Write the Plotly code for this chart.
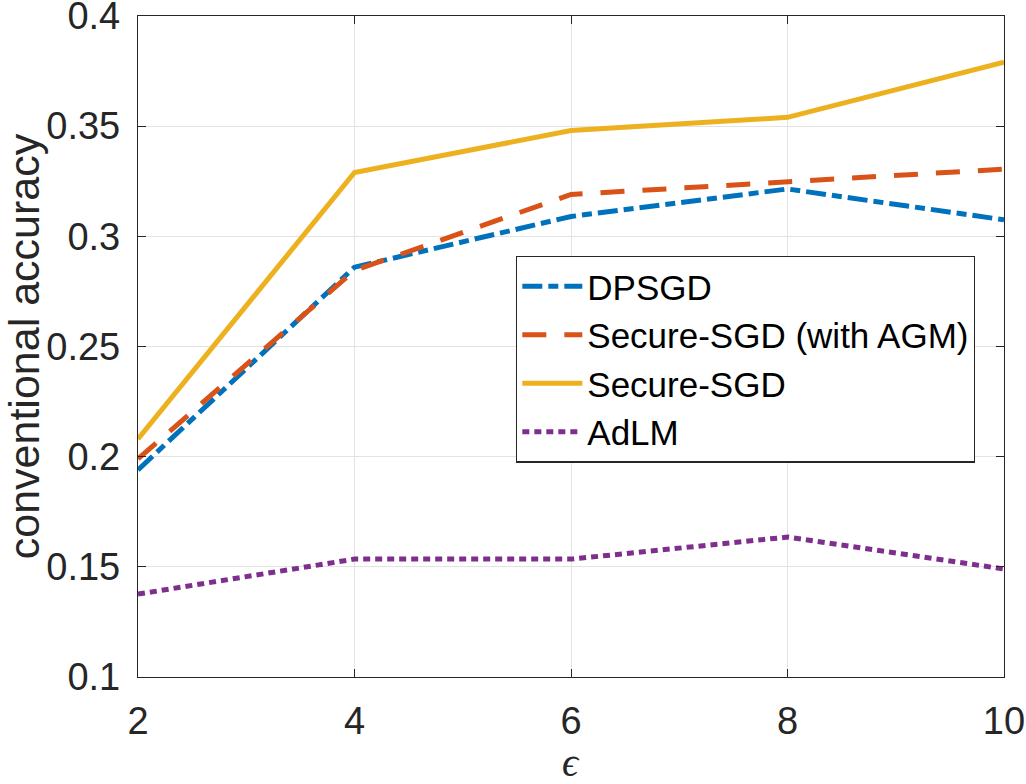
import plotly.graph_objects as go

eps = [2, 4, 6, 8, 10]
dpsgd = [0.194, 0.286, 0.309, 0.3215, 0.3075]
secure_agm = [0.199, 0.2845, 0.319, 0.325, 0.3305]
secure = [0.208, 0.329, 0.348, 0.354, 0.379]
adlm = [0.1376, 0.1535, 0.1535, 0.1635, 0.149]

series = [
    ("DPSGD", dpsgd, "#0072BD", "20px,6px,10px,6px"),
    ("Secure-SGD (with AGM)", secure_agm, "#D95319", "24px,18px"),
    ("Secure-SGD", secure, "#EDB120", "solid"),
    ("AdLM", adlm, "#7E2F8E", "7px,5px"),
]

fig = go.Figure()
for name, vals, col, dash in series:
    fig.add_trace(go.Scatter(x=eps, y=vals, mode="lines", name=name,
                             line=dict(color=col, width=5, dash=dash)))

axis_common = dict(
    showline=True, linecolor="#262626", linewidth=1.3, mirror="ticks",
    ticks="inside", ticklen=8, tickcolor="#262626", tickwidth=1.3,
    showgrid=True, gridcolor="#e3e3e3", gridwidth=1, zeroline=False,
    automargin=False, ticklabeloverflow="allow",
    tickfont=dict(family="Liberation Sans, Arial", size=38, color="#262626"),
)

fig.update_layout(
    width=1026, height=784,
    margin=dict(l=138, r=22, t=16, b=107),
    paper_bgcolor="white", plot_bgcolor="white",
    showlegend=True,
    legend=dict(
        x=0.4365, y=0.6375, xanchor="left", yanchor="top",
        bordercolor="#262626", borderwidth=1.3, bgcolor="white",
        font=dict(family="Liberation Sans, Arial", size=35, color="#000000"),
        itemwidth=60, tracegroupgap=0,
    ),
    xaxis=dict(range=[2, 10], tickvals=[2, 4, 6, 8, 10], ticklabelstandoff=10,
               **axis_common),
    yaxis=dict(range=[0.1, 0.4], tickvals=[0.1, 0.15, 0.2, 0.25, 0.3, 0.35, 0.4],
               ticktext=["0.1", "0.15", "0.2", "0.25", "0.3", "0.35", "0.4"],
               ticklabelstandoff=9,
               title=dict(text="conventional accuracy", standoff=16,
                          font=dict(family="Liberation Sans, Arial", size=43, color="#262626")),
               **axis_common),
    annotations=[dict(text="<i>ϵ</i>", xref="paper", yref="paper", x=0.5, y=-0.130,
                      xanchor="center", yanchor="middle", showarrow=False,
                      font=dict(family="Liberation Serif, DejaVu Serif", size=40, color="#262626"))],
)

fig.write_html("out.html")
